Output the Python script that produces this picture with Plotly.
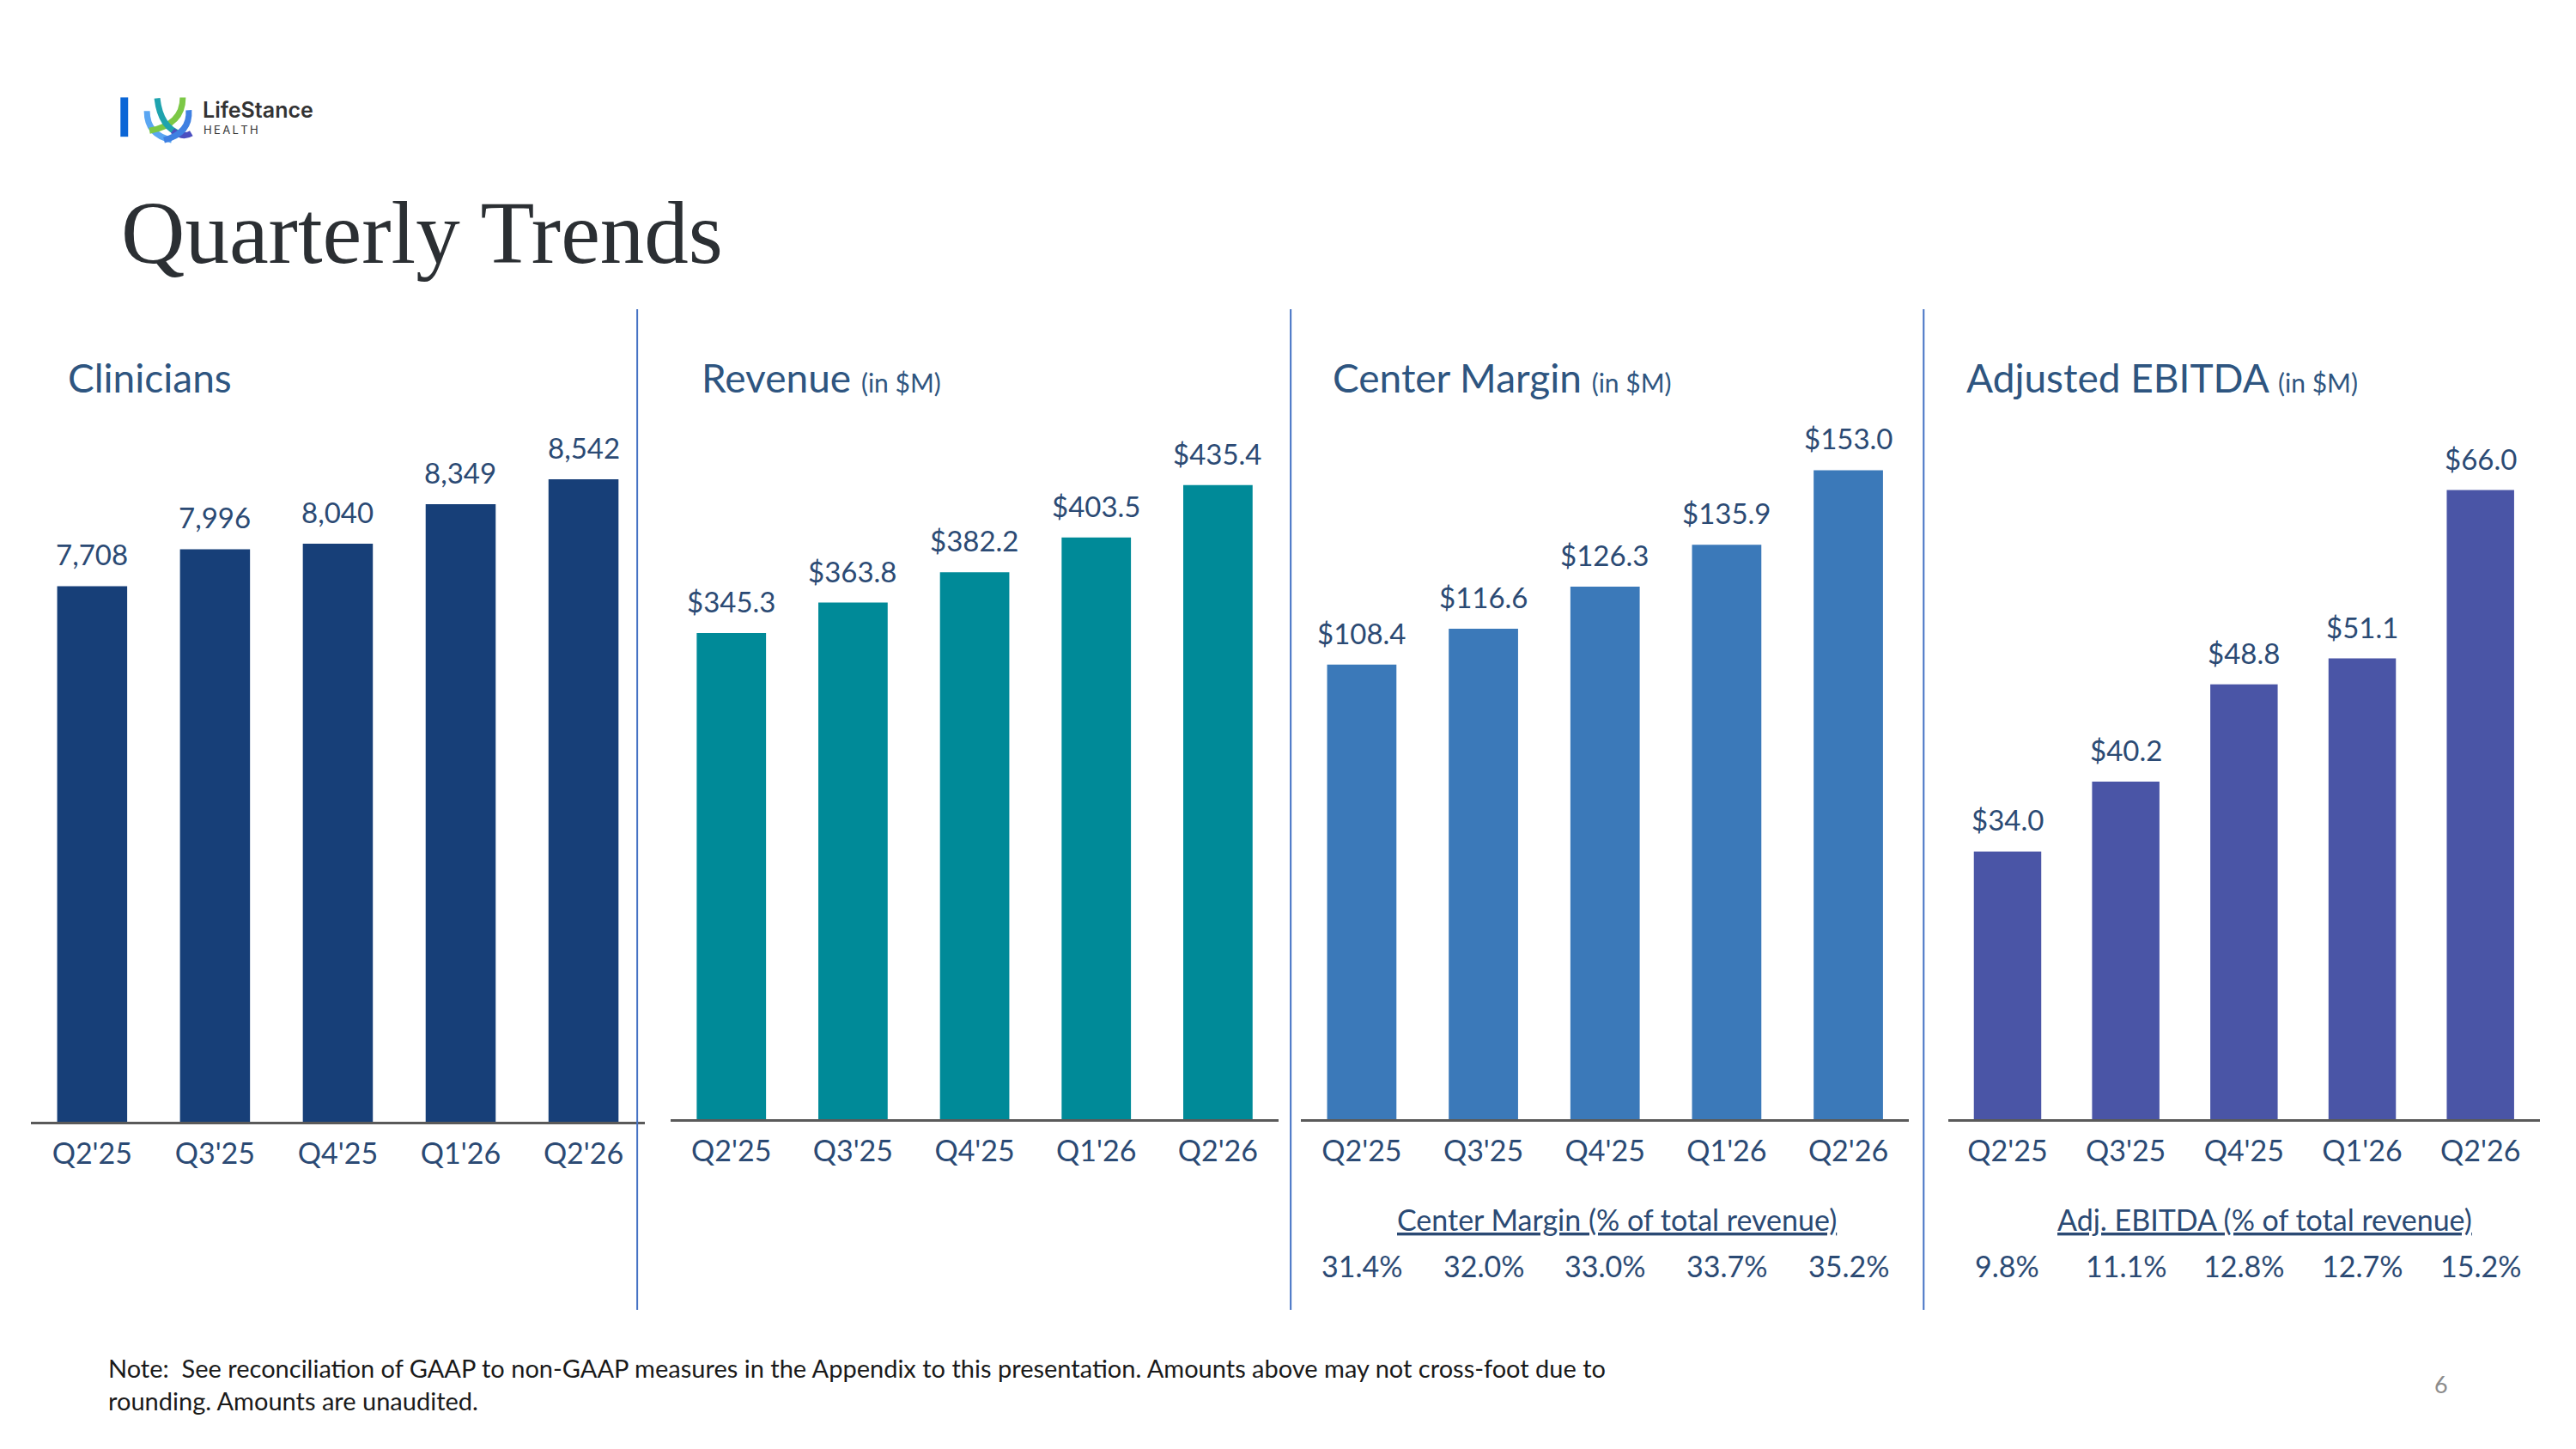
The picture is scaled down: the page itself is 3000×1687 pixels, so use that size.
import plotly.graph_objects as go

W, H = 3000, 1687
K = 0.9948  # layout scale helper

quarters = ["Q2'25", "Q3'25", "Q4'25", "Q1'26", "Q2'26"]
clinicians = [7708, 7996, 8040, 8349, 8542]
revenue = [345.3, 363.8, 382.2, 403.5, 435.4]
center_margin = [108.4, 116.6, 126.3, 135.9, 153.0]
adj_ebitda = [34.0, 40.2, 48.8, 51.1, 66.0]
cm_pct = [31.4, 32.0, 33.0, 33.7, 35.2]
ebitda_pct = [9.8, 11.1, 12.8, 12.7, 15.2]

clin_labels = [f"{v:,}" for v in clinicians]
rev_labels = [f"${v:.1f}" for v in revenue]
cm_labels = [f"${v:.1f}" for v in center_margin]
eb_labels = [f"${v:.1f}" for v in adj_ebitda]
cm_pct_labels = [f"{v:.1f}%" for v in cm_pct]
eb_pct_labels = [f"{v:.1f}%" for v in ebitda_pct]

def px(x):
    return x * K / W

def py(y):
    return 1 - y * K / H

FONT = "Lato"
TXT = "#2B4A74"
TITLE_C = "#2E5580"

panels = [
    dict(vals=clinicians, labels=clin_labels, color="#173F78", x0=36, x1=755, base=1313, rng=[3524, 9076],
         title="Clinicians", tx=77),
    dict(vals=revenue, labels=rev_labels, color="#008A98", x0=785, x1=1497, base=1310, rng=[49, 480.5],
         title="Revenue <span style='font-size:30px'>(in $M)</span>", tx=819),
    dict(vals=center_margin, labels=cm_labels, color="#3B79B9", x0=1523, x1=2235, base=1310, rng=[4, 166.6],
         title="Center Margin <span style='font-size:30px'>(in $M)</span>", tx=1558),
    dict(vals=adj_ebitda, labels=eb_labels, color="#4A55A6", x0=2281, x1=2973, base=1310, rng=[10.3, 73.0],
         title="Adjusted EBITDA <span style='font-size:30px'>(in $M)</span>", tx=2300),
]

fig = go.Figure()
annotations = []
shapes = []
top_px = 481

for i, p in enumerate(panels, start=1):
    xa = "x" if i == 1 else f"x{i}"
    ya = "y" if i == 1 else f"y{i}"
    fig.add_trace(go.Bar(x=quarters, y=p["vals"], marker=dict(color=p["color"], line=dict(width=0)),
                         xaxis=xa, yaxis=ya, showlegend=False, hoverinfo="skip"))
    xkey = "xaxis" if i == 1 else f"xaxis{i}"
    ykey = "yaxis" if i == 1 else f"yaxis{i}"
    fig.update_layout(**{
        xkey: dict(domain=[px(p["x0"]), px(p["x1"])], anchor=ya, showgrid=False, zeroline=False,
                   showline=True, linecolor="#5A5A5A", linewidth=3, ticks="", ticklabelstandoff=5,
                   tickfont=dict(family=FONT, size=34, color=TXT), fixedrange=True),
        ykey: dict(domain=[py(p["base"]), py(top_px)], anchor=xa, range=p["rng"], visible=False,
                   showgrid=False, zeroline=False, fixedrange=True),
    })
    for q, v, lab in zip(quarters, p["vals"], p["labels"]):
        annotations.append(dict(x=q, y=v, xref=xa, yref=ya, text=lab, showarrow=False, yanchor="bottom",
                                yshift=15, font=dict(family=FONT, size=33, color=TXT)))
    annotations.append(dict(x=px(p["tx"]), y=py(442), xref="paper", yref="paper", text=p["title"],
                            showarrow=False, xanchor="left", yanchor="middle",
                            font=dict(family=FONT, size=46, color=TITLE_C)))

fig.update_layout(bargap=0.43)

# percentage rows
for xa, hdr, hx, labs in [("x3", "<u>Center Margin (% of total revenue)</u>", 0.52, cm_pct_labels),
                          ("x4", "<u>Adj. EBITDA (% of total revenue)</u>", 0.535, eb_pct_labels)]:
    annotations.append(dict(x=hx, y=py(1427), xref=f"{xa} domain", yref="paper", text=hdr, showarrow=False,
                            xanchor="center", yanchor="middle", font=dict(family=FONT, size=34, color=TXT)))
    for q, lab in zip(quarters, labs):
        annotations.append(dict(x=q, y=py(1481), xref=xa, yref="paper", text=lab, showarrow=False,
                                xanchor="center", yanchor="middle", font=dict(family=FONT, size=34, color=TXT)))

# dividers
for xd in [746, 1511, 2252]:
    shapes.append(dict(type="line", xref="paper", yref="paper", x0=px(xd), x1=px(xd), y0=py(362), y1=py(1533),
                       line=dict(color="#4472C4", width=2)))

# title
annotations.append(dict(x=px(140), y=py(272), xref="paper", yref="paper", text="Quarterly Trends",
                        showarrow=False, xanchor="left", yanchor="middle",
                        font=dict(family="Liberation Serif", size=103, color="#2B2F33")))

# note
annotations.append(dict(x=px(125), y=py(1620), xref="paper", yref="paper",
                        text="Note:  See reconciliation of GAAP to non-GAAP measures in the Appendix to this presentation. Amounts above may not cross-foot due to<br>rounding. Amounts are unaudited.",
                        showarrow=False, xanchor="left", yanchor="middle", align="left",
                        font=dict(family=FONT, size=29, color="#1A1A1A")))
annotations.append(dict(x=px(2858), y=py(1620), xref="paper", yref="paper", text="6", showarrow=False,
                        xanchor="center", yanchor="middle", font=dict(family=FONT, size=27, color="#8C8C8C")))

# logo
shapes.append(dict(type="rect", xref="paper", yref="paper", x0=px(141), x1=px(150), y0=py(160), y1=py(114),
                   fillcolor="#0B66D6", line=dict(width=0)))

def qpath(p0, c, p1):
    return f"M {px(p0[0])},{py(p0[1])} Q {px(c[0])},{py(c[1])} {px(p1[0])},{py(p1[1])}"

for p0, c, p1, col, w in [((172, 130), (172, 158), (201, 164), "#5AA6F2", 7),
                          ((214, 114), (214, 146), (175, 153), "#7CC846", 7),
                          ((184, 115), (188, 150), (212, 157), "#1FA3AE", 7),
                          ((202, 153), (214, 162), (224, 156), "#4B4FC0", 7),
                          ((221, 129), (223, 156), (192, 164), "#3F80E2", 7)]:
    shapes.append(dict(type="path", xref="paper", yref="paper", path=qpath(p0, c, p1),
                       line=dict(color=col, width=w)))

annotations.append(dict(x=px(235), y=py(129), xref="paper", yref="paper", text="LifeStance", showarrow=False,
                        xanchor="left", yanchor="middle", font=dict(family="Inter", size=25, color="#333333", weight=600)))
annotations.append(dict(x=px(236), y=py(152), xref="paper", yref="paper",
                        text="H\u2009E\u2009A\u2009L\u2009T\u2009H", showarrow=False,
                        xanchor="left", yanchor="middle", font=dict(family="Inter", size=13, color="#333333")))

fig.update_layout(width=W, height=H, margin=dict(l=0, r=0, t=0, b=0), paper_bgcolor="white",
                  plot_bgcolor="white", annotations=annotations, shapes=shapes, showlegend=False)

fig.write_html("out.html", config={"displayModeBar": False},
               post_script="document.body.style.margin='0';document.body.style.padding='0';document.body.style.overflow='hidden';")
